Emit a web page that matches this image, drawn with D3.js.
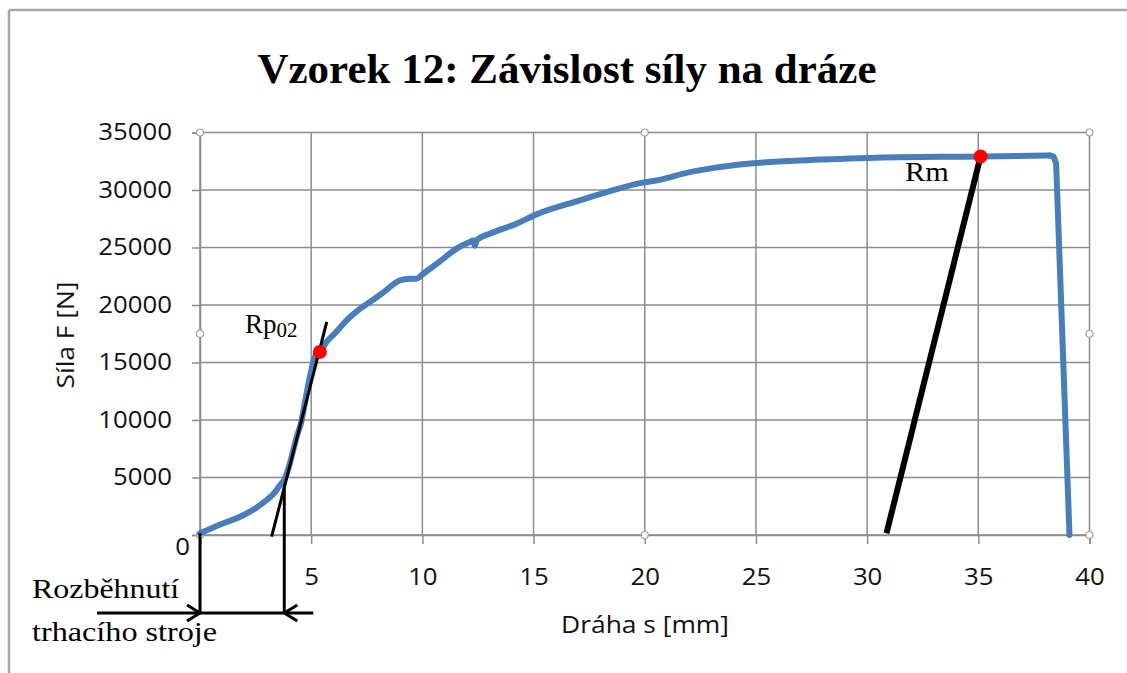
<!DOCTYPE html>
<html><head><meta charset="utf-8">
<script src="https://cdn.jsdelivr.net/npm/d3@7"></script>
<style>body{margin:0;background:#fff}</style>
</head><body>
<svg id="c" width="1127" height="673"></svg>
<script>
// ---- data ----
const title = "Vzorek 12: Závislost síly na dráze";
const xTitle = "Dráha s [mm]";
const yTitle = "Síla F [N]";
const xTickValues = [0, 5, 10, 15, 20, 25, 30, 35, 40];
const yTickValues = [0, 5000, 10000, 15000, 20000, 25000, 30000, 35000];
const pathS = [0, 1.05, 1.8, 2.55, 3.0, 3.3, 3.6, 3.82, 4.04, 4.35, 4.55, 4.74, 4.94, 5.24, 5.39, 5.69, 6.07, 6.59, 7.1, 7.64, 8.31, 8.99, 9.44, 9.74, 10.04, 10.79, 11.54, 12.13, 12.3, 12.36, 12.45, 13.03, 14.23, 15.13, 17.08, 18.43, 19.78, 20.52, 22.02, 24.27, 26.97, 30.11, 35.1, 38.2, 38.38, 38.5, 39.1];
const forceF = [150, 1020, 1590, 2400, 3040, 3560, 4340, 4920, 6230, 8540, 9800, 11750, 13750, 15780, 15920, 16790, 17540, 18670, 19540, 20260, 21190, 22150, 22280, 22290, 22720, 23800, 24900, 25470, 25600, 25150, 25650, 26200, 27070, 27880, 29100, 29900, 30600, 30830, 31550, 32220, 32570, 32790, 32916, 33000, 32920, 32300, 0];
const rpS = [5.39], rpF = [15920];
const rmS = [35.1], rmF = [32916];
const rpTangentS = [3.22, 5.70], rpTangentF = [-150, 18530];
const rmLineS = [30.87, 35.1], rmLineF = [150, 32916];
const startMarkS = [0, 3.79];
const startMarkTopF = [150, 4140];
const arrowF = -6780;
const arrowSpanS = [-4.63, 5.09];
const handleS = [0, 20, 40, 0, 40, 0, 20, 40];
const handleF = [35000, 35000, 35000, 17500, 17500, 0, 0, 0];

// ---- chart ----
const svg = d3.select("#c");
const x = d3.scaleLinear().domain([0, 40]).range([200, 1089.5]);
const y = d3.scaleLinear().domain([0, 35000]).range([535, 132.5]);
const gridCol = "#8c8c8c";
const sans = "'Open Sans', sans-serif";
const serif = "'Liberation Serif', 'Times New Roman', serif";

function stretch(sel, f) {
  sel.each(function () {
    const w = this.getComputedTextLength();
    d3.select(this).attr("textLength", w * f).attr("lengthAdjust", "spacingAndGlyphs");
  });
}

// outer border (top & left visible)
svg.append("line").attr("x1", 9).attr("y1", 10).attr("x2", 1127).attr("y2", 10)
  .attr("stroke", "#a8a8a8").attr("stroke-width", 2.5);
svg.append("line").attr("x1", 9).attr("y1", 10).attr("x2", 9).attr("y2", 673)
  .attr("stroke", "#a8a8a8").attr("stroke-width", 2.5);

// title
svg.append("text").attr("x", 567).attr("y", 83).attr("text-anchor", "middle")
  .attr("font-family", serif).attr("font-weight", "bold").attr("font-size", 43)
  .attr("fill", "#000").text(title);

// grid
svg.append("g").selectAll("line").data(yTickValues).join("line")
  .attr("x1", x(0)).attr("x2", x(40)).attr("y1", d => y(d)).attr("y2", d => y(d))
  .attr("stroke", gridCol).attr("stroke-width", 1.5);
svg.append("g").selectAll("line").data(xTickValues).join("line")
  .attr("x1", d => x(d)).attr("x2", d => x(d)).attr("y1", y(35000)).attr("y2", y(0))
  .attr("stroke", gridCol).attr("stroke-width", 1.5);

// axes
const yAxis = svg.append("g").attr("transform", `translate(${x(0)},0)`)
  .call(d3.axisLeft(y).tickValues(yTickValues).tickSize(8).tickPadding(20).tickFormat(d3.format("d")));
const xAxis = svg.append("g").attr("transform", `translate(0,${y(0)})`)
  .call(d3.axisBottom(x).tickValues(xTickValues).tickSize(9).tickPadding(25).tickFormat(d => d === 0 ? "" : d));
[yAxis, xAxis].forEach(a => {
  a.select(".domain").attr("stroke", gridCol).attr("stroke-width", 1.5);
  a.selectAll(".tick line").attr("stroke", gridCol).attr("stroke-width", 1.5);
  a.selectAll("text").attr("font-family", sans).attr("font-size", 23).attr("fill", "#111");
});
yAxis.selectAll(".tick").filter(d => d === 0).select("text").attr("x", -10).attr("dy", "0.85em");
stretch(yAxis.selectAll("text"), 1.12);
stretch(xAxis.selectAll("text").filter(d => d !== 0), 1.12);

// axis titles
const xt = svg.append("text").attr("x", 645).attr("y", 633).attr("text-anchor", "middle")
  .attr("font-family", sans).attr("font-size", 24).attr("fill", "#111").text(xTitle);
stretch(xt, 1.1);
const yt = svg.append("text").attr("transform", "translate(74,335) rotate(-90)").attr("text-anchor", "middle")
  .attr("font-family", sans).attr("font-size", 24).attr("fill", "#111").text(yTitle);
stretch(yt, 1.1);

// selection handles
svg.append("g").selectAll("circle").data(handleS.map((s, i) => [s, handleF[i]])).join("circle")
  .attr("cx", d => x(d[0])).attr("cy", d => y(d[1])).attr("r", 3.5)
  .attr("fill", "#fff").attr("stroke", "#a0a0a0").attr("stroke-width", 1.2);

// blue curve: smooth rising part, straight fracture drop
const curvePts = pathS.map((s, i) => [s, forceF[i]]);
const split = pathS.indexOf(38.2);
const blue = (pts, curve) => svg.append("path").datum(pts)
  .attr("d", d3.line().x(d => x(d[0])).y(d => y(d[1])).curve(curve))
  .attr("fill", "none").attr("stroke", "#4a7ebb").attr("stroke-width", 6)
  .attr("stroke-linejoin", "round").attr("stroke-linecap", "round");
blue(curvePts.slice(0, split + 1), d3.curveMonotoneX);
blue(curvePts.slice(split), d3.curveLinear);

// Rm secant line
svg.append("line").attr("x1", x(rmLineS[0])).attr("y1", y(rmLineF[0]))
  .attr("x2", x(rmLineS[1])).attr("y2", y(rmLineF[1]))
  .attr("stroke", "#000").attr("stroke-width", 6);

// Rp tangent line
svg.append("line").attr("x1", x(rpTangentS[0])).attr("y1", y(rpTangentF[0]))
  .attr("x2", x(rpTangentS[1])).attr("y2", y(rpTangentF[1]))
  .attr("stroke", "#000").attr("stroke-width", 3);

// start-of-machine annotation
startMarkS.forEach((s, i) => {
  svg.append("line").attr("x1", x(s)).attr("x2", x(s))
    .attr("y1", y(startMarkTopF[i])).attr("y2", y(arrowF))
    .attr("stroke", "#000").attr("stroke-width", 3);
});
svg.append("line").attr("x1", x(arrowSpanS[0])).attr("x2", x(arrowSpanS[1]))
  .attr("y1", y(arrowF)).attr("y2", y(arrowF)).attr("stroke", "#000").attr("stroke-width", 3);
const ay = y(arrowF);
const ah = [[x(startMarkS[0]), -1], [x(startMarkS[1]), 1]];
ah.forEach(([tx, dir]) => {
  svg.append("path")
    .attr("d", `M${tx + dir * 13},${ay - 8}L${tx},${ay}L${tx + dir * 13},${ay + 8}`)
    .attr("fill", "none").attr("stroke", "#000").attr("stroke-width", 3);
});

// points
svg.append("circle").attr("cx", x(rpS[0])).attr("cy", y(rpF[0])).attr("r", 7).attr("fill", "#ff0000");
svg.append("circle").attr("cx", x(rmS[0])).attr("cy", y(rmF[0])).attr("r", 7).attr("fill", "#ff0000");

// labels
const rp = svg.append("text").attr("x", 245).attr("y", 333).attr("font-family", serif)
  .attr("font-size", 27).attr("fill", "#000");
rp.append("tspan").text("Rp");
rp.append("tspan").attr("font-size", 21).attr("dy", 4).text("02");
const rm = svg.append("text").attr("x", 905).attr("y", 181).attr("font-family", serif)
  .attr("font-size", 27).attr("fill", "#000").text("Rm");
stretch(rm, 1.12);
const t1 = svg.append("text").attr("x", 32).attr("y", 598).attr("font-family", serif)
  .attr("font-size", 28).attr("fill", "#000").text("Rozběhnutí");
stretch(t1, 1.14);
const t2 = svg.append("text").attr("x", 32).attr("y", 641).attr("font-family", serif)
  .attr("font-size", 28).attr("fill", "#000").text("trhacího stroje");
stretch(t2, 1.15);
</script>
</body></html>
